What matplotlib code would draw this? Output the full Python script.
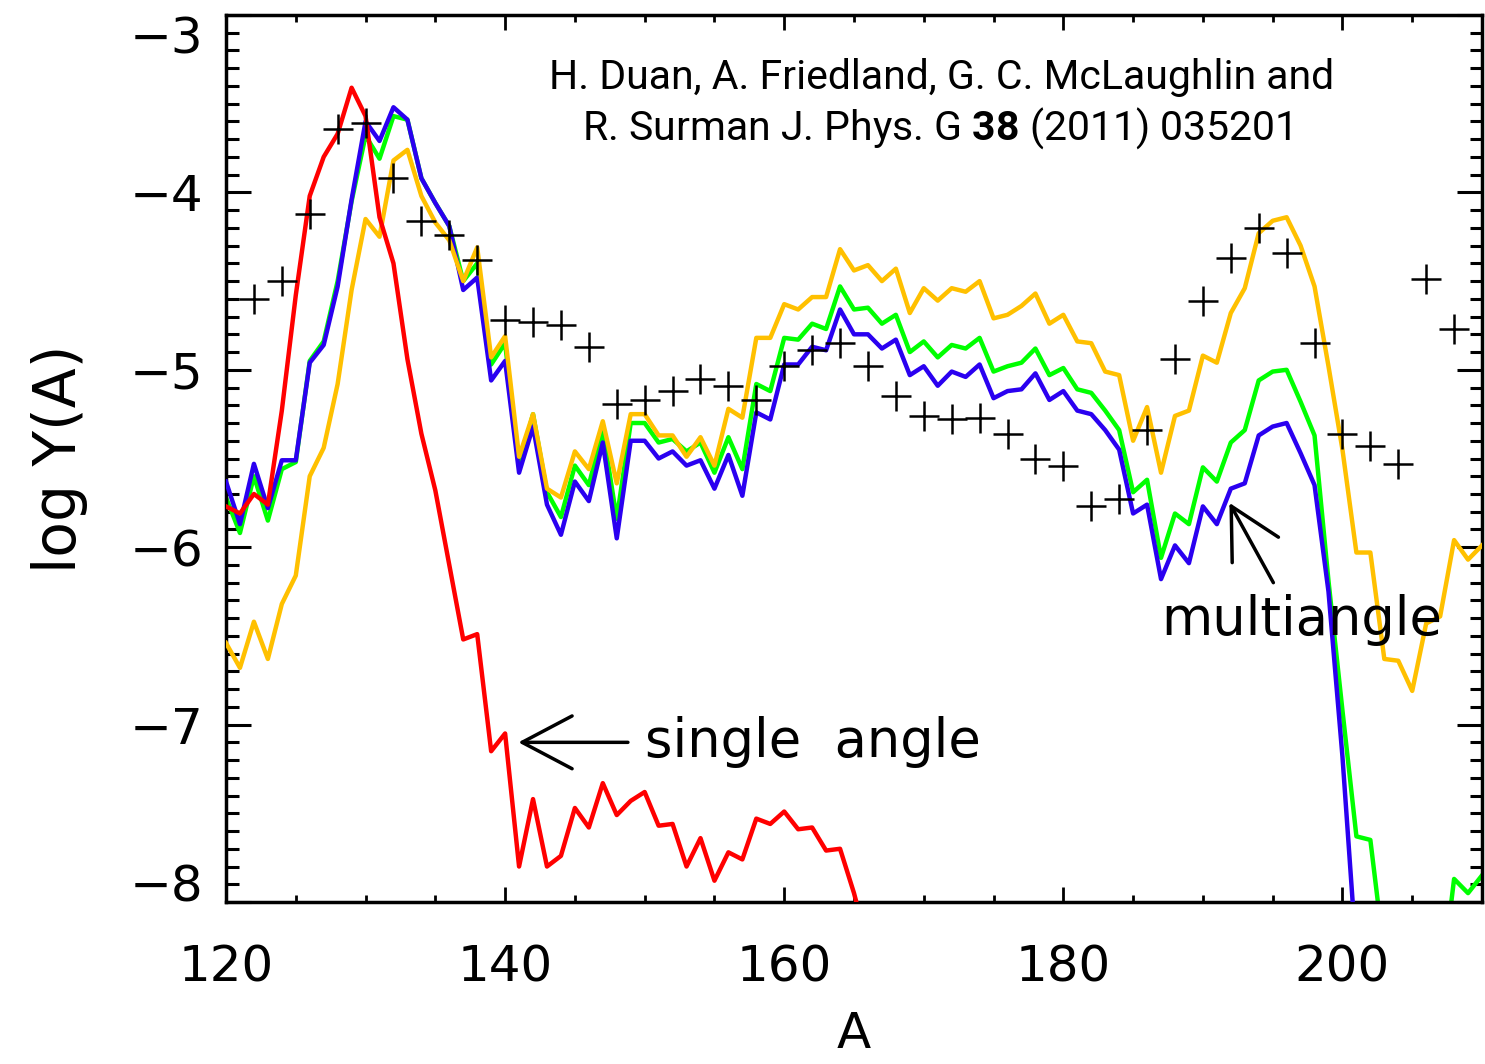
import numpy as np
import matplotlib
matplotlib.use("Agg")
import matplotlib.pyplot as plt
from matplotlib.ticker import MultipleLocator

plt.rcParams['font.family'] = ['DejaVu Sans']
plt.rcParams['mathtext.fontset'] = 'custom'
plt.rcParams['mathtext.bf'] = 'Roboto:bold'
plt.rcParams['mathtext.rm'] = 'Roboto'

# mass number grid for the network calculations
A = np.arange(120, 211)

# single angle (red)
A_single = np.arange(120, 167)
y_single = [-5.77, -5.81, -5.70, -5.76, -5.23, -4.58, -4.02, -3.80, -3.67, -3.41,
            -3.57, -4.14, -4.40, -4.94, -5.36, -5.68, -6.10, -6.52, -6.49, -7.15,
            -7.05, -7.80, -7.42, -7.80, -7.74, -7.47, -7.58, -7.33, -7.51, -7.43,
            -7.38, -7.57, -7.56, -7.80, -7.64, -7.88, -7.72, -7.76, -7.53, -7.56,
            -7.49, -7.59, -7.58, -7.71, -7.70, -7.95, -8.25]

# multiangle (blue)
A_blue = np.arange(120, 202)
y_blue = [-5.63, -5.87, -5.53, -5.78, -5.51, -5.51, -4.96, -4.86, -4.53, -4.04,
          -3.60, -3.71, -3.52, -3.59, -3.92, -4.06, -4.19, -4.55, -4.48, -5.06,
          -4.95, -5.58, -5.32, -5.76, -5.93, -5.63, -5.74, -5.41, -5.95, -5.40,
          -5.40, -5.50, -5.46, -5.54, -5.51, -5.67, -5.48, -5.71, -5.24, -5.28,
          -4.97, -4.97, -4.87, -4.89, -4.66, -4.80, -4.80, -4.88, -4.83, -5.03,
          -4.98, -5.09, -5.01, -5.04, -4.97, -5.16, -5.12, -5.11, -5.02, -5.17,
          -5.12, -5.23, -5.25, -5.34, -5.45, -5.81, -5.76, -6.18, -5.99, -6.09,
          -5.77, -5.87, -5.67, -5.64, -5.37, -5.32, -5.30, -5.47, -5.65, -6.25,
          -7.18, -8.30]

# green
y_green = [-5.72, -5.92, -5.60, -5.85, -5.56, -5.52, -4.95, -4.84, -4.50, -4.05,
           -3.68, -3.81, -3.57, -3.59, -3.92, -4.06, -4.19, -4.50, -4.40, -4.97,
           -4.85, -5.54, -5.25, -5.69, -5.83, -5.54, -5.65, -5.34, -5.84, -5.30,
           -5.30, -5.41, -5.39, -5.46, -5.41, -5.58, -5.38, -5.56, -5.08, -5.12,
           -4.82, -4.83, -4.74, -4.77, -4.53, -4.66, -4.65, -4.74, -4.69, -4.90,
           -4.84, -4.93, -4.86, -4.88, -4.82, -5.01, -4.98, -4.96, -4.88, -5.03,
           -4.99, -5.11, -5.13, -5.23, -5.34, -5.69, -5.62, -6.06, -5.81, -5.87,
           -5.55, -5.63, -5.41, -5.34, -5.06, -5.01, -5.00, -5.18, -5.37, -6.19,
           -6.92, -7.63, -7.65, -8.30, -8.60, -8.70, -8.60, -8.52, -7.87, -7.95,
           -7.85]

# yellow
y_yellow = [-6.54, -6.68, -6.42, -6.63, -6.32, -6.16, -5.60, -5.44, -5.08, -4.55,
            -4.15, -4.25, -3.82, -3.76, -4.02, -4.17, -4.27, -4.50, -4.31, -4.93,
            -4.81, -5.49, -5.25, -5.67, -5.72, -5.46, -5.56, -5.29, -5.64, -5.25,
            -5.25, -5.37, -5.37, -5.49, -5.38, -5.54, -5.22, -5.27, -4.82, -4.82,
            -4.63, -4.66, -4.59, -4.59, -4.32, -4.44, -4.41, -4.50, -4.43, -4.68,
            -4.54, -4.61, -4.54, -4.56, -4.50, -4.71, -4.69, -4.64, -4.57, -4.74,
            -4.69, -4.84, -4.85, -5.01, -5.03, -5.40, -5.21, -5.58, -5.26, -5.23,
            -4.92, -4.96, -4.68, -4.54, -4.23, -4.16, -4.14, -4.30, -4.53, -4.98,
            -5.45, -6.03, -6.03, -6.63, -6.64, -6.81, -6.43, -6.39, -5.96, -6.07,
            -5.99]

# solar r-process abundances (crosses)
A_obs = np.arange(122, 209, 2)
y_obs = [-4.60, -4.50, -4.12, -3.64, -3.61, -3.92, -4.16, -4.24, -4.38, -4.72,
         -4.73, -4.75, -4.87, -5.19, -5.17, -5.12, -5.05, -5.09, -5.17, -4.98,
         -4.89, -4.85, -4.98, -5.15, -5.26, -5.28, -5.27, -5.36, -5.50, -5.54,
         -5.77, -5.73, -5.34, -4.94, -4.61, -4.37, -4.20, -4.34, -4.85, -5.36,
         -5.43, -5.53, -4.49, -4.77]

x_ticks = [120, 140, 160, 180, 200]
y_ticks = [-8, -7, -6, -5, -4, -3]

fig = plt.figure(figsize=(14.85, 10.64), dpi=100)
ax = fig.add_axes([226/1485, 162/1064, 1256/1485, 887/1064])

lw = 3.2
ax.plot(A, y_green, color='#00ff00', lw=lw, zorder=2)
ax.plot(A_blue, y_blue, color='#2a00f0', lw=lw, zorder=3)
ax.plot(A, y_yellow, color='#ffc000', lw=lw, zorder=4)
ax.plot(A_single, y_single, color='#ff0000', lw=lw, zorder=5)
ax.plot(A_obs, y_obs, ls='none', marker='+', color='black', ms=21, mew=1.8, zorder=6)

ax.set_xticks(x_ticks)
ax.set_yticks(y_ticks)
ax.set_xlim(120, 210)
ax.set_ylim(-8, -3)
ax.xaxis.set_minor_locator(MultipleLocator(5))
ax.yaxis.set_minor_locator(MultipleLocator(0.1))

for s in ax.spines.values():
    s.set_linewidth(2.5)

ax.tick_params(axis='x', which='major', direction='in', length=11, width=2,
               top=True, bottom=True, labelsize=36, pad=30)
ax.tick_params(axis='x', which='minor', direction='in', length=5, width=2,
               top=True, bottom=True)
ax.tick_params(axis='y', which='major', direction='in', length=18, width=2.2,
               left=True, right=True, labelsize=36, pad=16)
ax.tick_params(axis='y', which='minor', direction='in', length=9, width=2.2,
               left=True, right=True)

ax.set_xlabel('A', fontsize=36, labelpad=13)
ax.set_ylabel('log Y(A)', fontsize=42, labelpad=30)

# end labels sit inside the frame height, as in the original
yt = ax.yaxis.get_major_ticks()
yt[-1].label1.set_verticalalignment('top')
yt[0].label1.set_verticalalignment('baseline')

cite_font = ['Roboto', 'DejaVu Sans']
ax.text(0.570, 0.951, 'H. Duan, A. Friedland, G. C. McLaughlin and',
        transform=ax.transAxes, ha='center', va='top', fontsize=29.5,
        family=cite_font)
ax.text(0.566, 0.898, r'R. Surman J. Phys. G $\mathbf{38}$ (2011) 035201',
        transform=ax.transAxes, ha='center', va='top', fontsize=29.5,
        family=cite_font)

ax.annotate('', xy=(140.95, -7.10), xytext=(148.8, -7.10),
            arrowprops=dict(arrowstyle='->,head_length=1.8,head_width=0.95',
                            lw=2.5, color='black', mutation_scale=20,
                            shrinkA=0, shrinkB=0))
ax.text(150.0, -7.10, 'single  angle', fontsize=38, ha='left', va='center')

ax.annotate('', xy=(191.9, -5.75), xytext=(195.05, -6.2),
            arrowprops=dict(arrowstyle='->,head_length=1.8,head_width=0.95',
                            lw=2.5, color='black', mutation_scale=20,
                            shrinkA=0, shrinkB=0))
ax.text(187.0, -6.41, 'multiangle', fontsize=38, ha='left', va='center', zorder=7)

fig.savefig('out.png', dpi=100)
